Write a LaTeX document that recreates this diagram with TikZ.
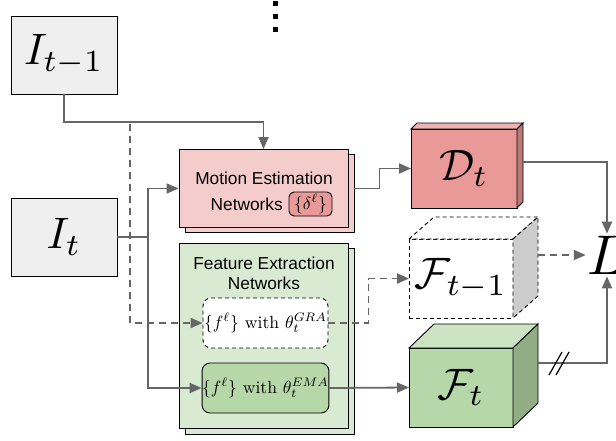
\documentclass[tikz,border=0pt]{standalone}
\usepackage{amsmath}
\usepackage{graphicx}
\usepackage{fontspec}
\setsansfont{Liberation Sans}
\usetikzlibrary{calc, positioning, arrows.meta}

\definecolor{imggray}{HTML}{EFEFEF}
\definecolor{linegray}{HTML}{666666}
\definecolor{pinklight}{HTML}{F4CCCC}
\definecolor{pinkdark}{HTML}{EA9999}
\definecolor{greenlight}{HTML}{D9EAD3}
\definecolor{greenmid}{HTML}{B6D7A8}
\definecolor{sidegray}{HTML}{CCCCCC}

\newcommand{\bigmath}[1]{\scalebox{4.4}{$#1$}}
\newcommand{\boxmath}[1]{\scalebox{1.76}{#1}}

\begin{document}
\begin{tikzpicture}[x=1pt, y=-1pt,
    imgbox/.style={draw, line width=0.9pt, fill=imggray, minimum width=106pt, minimum height=78pt, inner sep=0pt},
    netbox/.style={draw, line width=0.9pt, minimum width=169pt, inner sep=0pt},
    subbox/.style={draw, line width=0.9pt, rounded corners=8pt, minimum width=125pt, minimum height=50pt, inner sep=0pt},
    deltabox/.style={draw, line width=0.9pt, fill=pinkdark, rounded corners=5pt, minimum width=43pt, minimum height=24pt, inner sep=0pt},
    cubeface/.style={draw, line width=0.9pt, minimum width=104pt, minimum height=79pt, inner sep=0pt, outer sep=0pt},
    face/.style={line width=0.9pt},
    nettext/.style={font=\sffamily\fontsize{17.3}{20}\selectfont, inner sep=0pt},
    conn/.style={draw=linegray, line width=1.8pt, -{Triangle[length=12pt, width=10pt]}},
    dconn/.style={conn, dash pattern=on 7pt off 5pt},
    ]
    \useasboundingbox (0,0) rectangle (616,440);

    % Dots above
    \foreach \y in {1,14,27} \fill (273,\y) rectangle (278,\y+5);

    % Input frames
    \node[imgbox] (imgprev) at (64,55) {\bigmath{I_{t-1}}};
    \node[imgbox] (imgcur) at (64,237) {\bigmath{I_t}};

    % Motion estimation networks
    \node[netbox, fill=pinklight, minimum height=78pt] (motionbk) at (269.5,193.5) {};
    \node[netbox, fill=pinklight, minimum height=78pt] (motion) at (263.5,188.5) {};
    \node[nettext] (motiontitle) at (264,178) {Motion Estimation};
    \node[nettext, anchor=east] (motionnet) at (283,204) {Networks};
    \node[deltabox] (delta) at (310.5,204) {\boxmath{$\{\delta^\ell\}$}};

    % Feature extraction networks
    \node[netbox, fill=greenlight, minimum height=186pt] (featbk) at (269.5,341) {};
    \node[netbox, fill=greenlight, minimum height=185pt] (feat) at (263.5,335.5) {};
    \node[nettext] (feattitle) at (264,263) {Feature Extraction};
    \node[nettext] (featnet) at (264,283) {Networks};
    \node[subbox, fill=white, dash pattern=on 4pt off 3pt] (gra) at (265.5,323) {\boxmath{$\{f^\ell\}$ with $\theta_t^{GRA}$}};
    \node[subbox, fill=greenmid] (ema) at (265.5,388) {\boxmath{$\{f^\ell\}$ with $\theta_t^{EMA}$}};

    % Output volumes
    \node[cubeface, fill=pinkdark, minimum width=106pt] (dt) at (464,168.5) {\bigmath{\mathcal{D}_t}};
    \draw[face, fill=pinkdark!75!white] (dt.north west) -- ++(6,-6) -- ($(dt.north east)+(6,-6)$) -- (dt.north east) -- cycle;
    \draw[face, fill=pinkdark!80!black] (dt.north east) -- ++(6,-6) -- ($(dt.south east)+(6,-6)$) -- (dt.south east) -- cycle;

    \node[cubeface, fill=white, dash pattern=on 4pt off 3pt] (fprev) at (461,278.5) {\bigmath{\mathcal{F}_{t-1}}};
    \draw[face, fill=white, dash pattern=on 4pt off 3pt] (fprev.north west) -- ++(25,-22) -- ($(fprev.north east)+(25,-22)$) -- (fprev.north east) -- cycle;
    \draw[face, fill=sidegray, dash pattern=on 4pt off 3pt] (fprev.north east) -- ++(25,-22) -- ($(fprev.south east)+(25,-22)$) -- (fprev.south east) -- cycle;

    \node[cubeface, fill=greenmid] (ft) at (461,387.5) {\bigmath{\mathcal{F}_t}};
    \draw[face, fill=greenmid!70!white] (ft.north west) -- ++(25,-24) -- ($(ft.north east)+(25,-24)$) -- (ft.north east) -- cycle;
    \draw[face, fill=greenmid!80!black] (ft.north east) -- ++(25,-24) -- ($(ft.south east)+(25,-24)$) -- (ft.south east) -- cycle;

    % Loss
    \node[inner sep=2pt] (loss) at (607,255) {\scalebox{5.6}{$L$}};

    % Connectors
    \coordinate (prevbend) at (263.5,122);
    \coordinate (gradsplit) at (130,124);
    \coordinate (curbend) at (148,237);
    \draw[conn] (imgprev.south) |- (prevbend) -- (motion.north);
    \draw[dconn] (gradsplit) |- (gra.west);
    \draw[conn] (imgcur.east) -- (curbend) |- (motion.west);
    \draw[conn] (imgcur.east) -- (curbend) |- (ema.west);
    \draw[conn] (motion.east -| motionbk.east) -- ++(25,0) |- (dt.west);
    \draw[dconn] (gra.east) -- ++(40,0) |- (fprev.west);
    \draw[conn] (ema.east) -- (ft.west);

    \coordinate (dtout) at (523,162);
    \coordinate (fprevout) at (538,255);
    \coordinate (ftout) at (538,363);
    \draw[conn] (dtout) -| (loss.north);
    \draw[dconn] (fprevout) -- (loss.west);
    \draw[conn] (ftout) -| (loss.south);

    % Stop-gradient marks
    \foreach \dx in {0,7} \draw[line width=1.2pt] (549+\dx,375) -- (562+\dx,352);
\end{tikzpicture}
\end{document}
